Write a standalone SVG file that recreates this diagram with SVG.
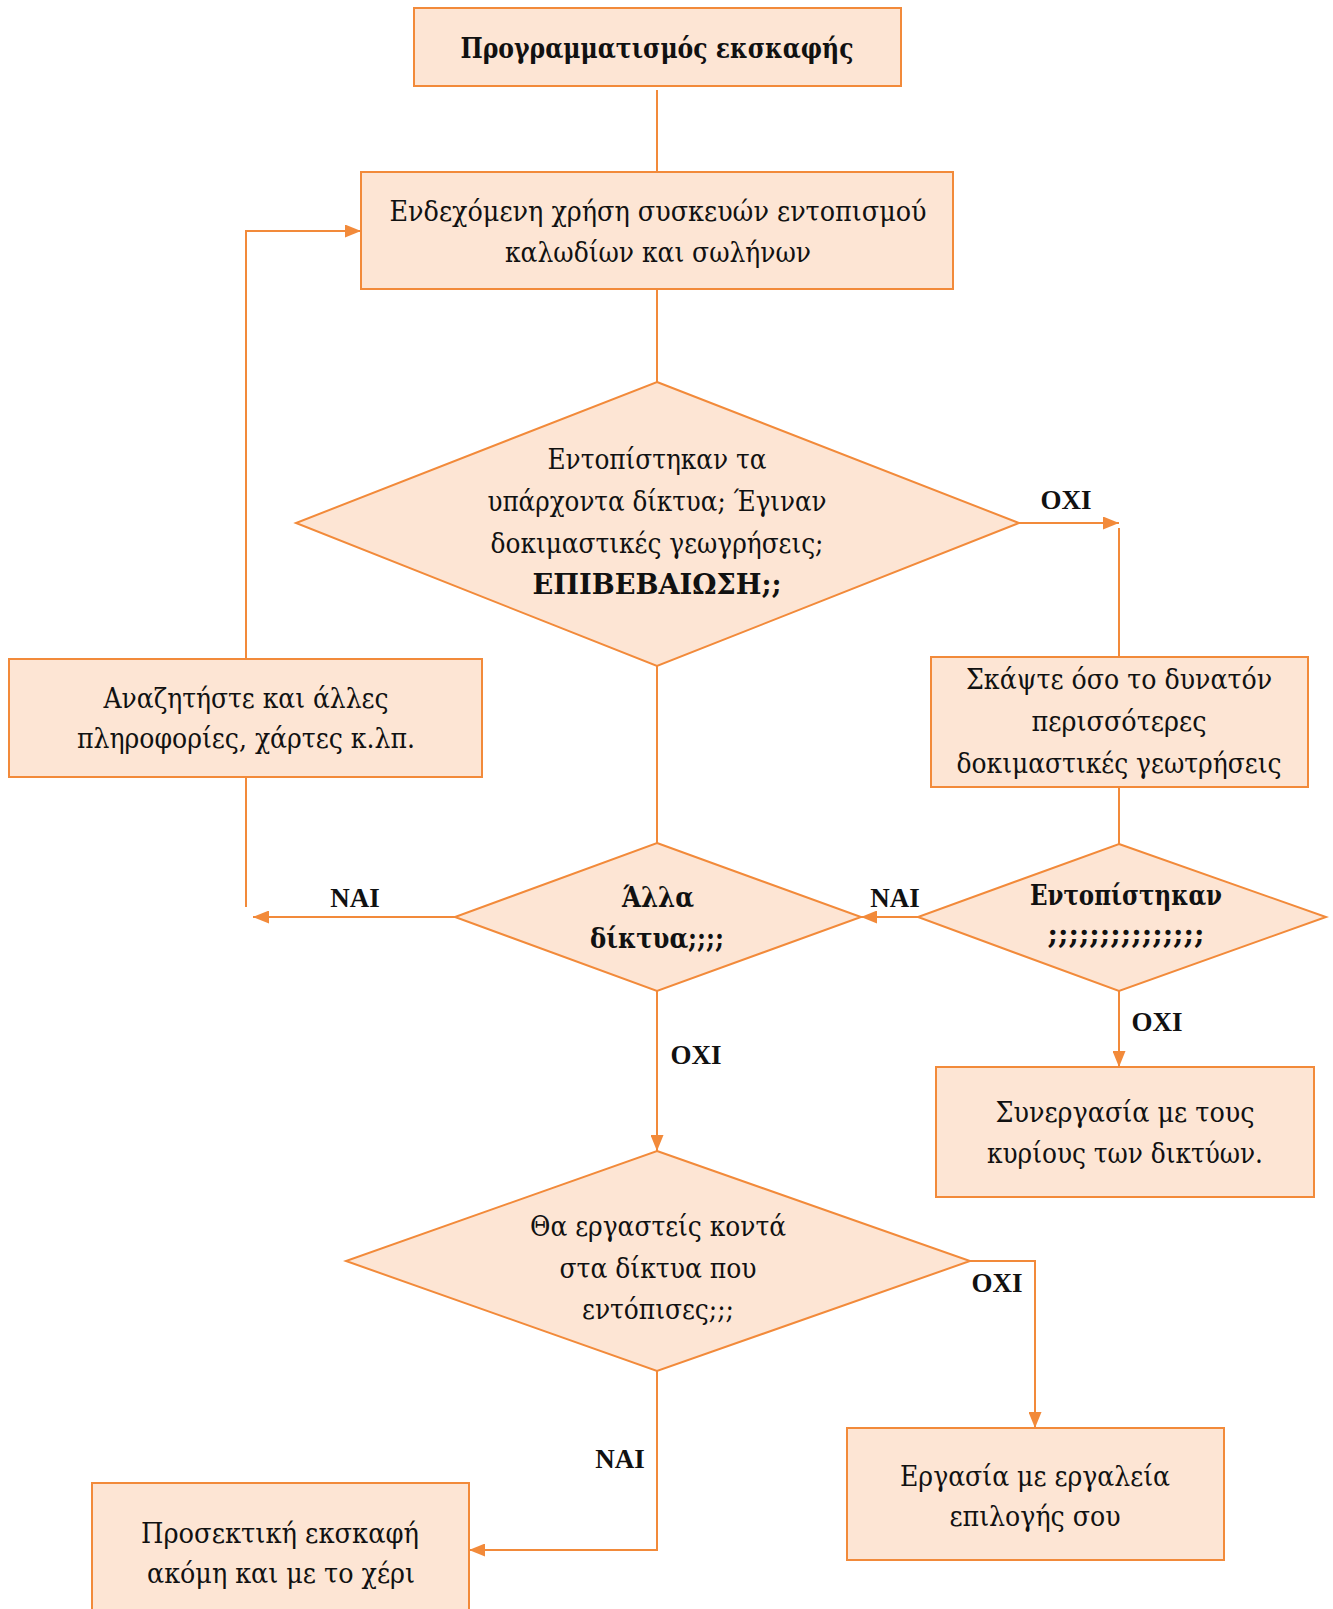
<svg xmlns="http://www.w3.org/2000/svg" width="1333" height="1609" viewBox="0 0 1333 1609">
<style>
.n{fill:#FDE5D4;stroke:#F28A3A;stroke-width:2}
.c{fill:none;stroke:#F28A3A;stroke-width:2}
.t{font-family:"DejaVu Serif","Liberation Serif",serif;font-stretch:condensed;font-size:28px;fill:#111;text-anchor:middle}
.b{font-weight:bold}
.l{font-family:"Liberation Serif","Times New Roman",serif;font-size:27px;font-weight:bold;fill:#111;text-anchor:middle}
</style>
<defs>
<marker id="a" viewBox="0 0 10 10" refX="10" refY="5" markerWidth="16" markerHeight="13" markerUnits="userSpaceOnUse" orient="auto" preserveAspectRatio="none">
<path d="M0,0 L10,5 L0,10 z" fill="#F28A3A"/>
</marker>
</defs>
<g id="connectors">
<line class="c" x1="657" y1="90" x2="657" y2="172"/>
<line class="c" x1="657" y1="289" x2="657" y2="382"/>
<path class="c" d="M1019,523 H1119" marker-end="url(#a)"/>
<line class="c" x1="1119" y1="528" x2="1119" y2="657"/>
<line class="c" x1="1119" y1="787" x2="1119" y2="844"/>
<line class="c" x1="657" y1="666" x2="657" y2="843"/>
<path class="c" d="M918,917 H861" marker-end="url(#a)"/>
<path class="c" d="M455,917 H253" marker-end="url(#a)"/>
<line class="c" x1="246" y1="777" x2="246" y2="907"/>
<path class="c" d="M246,659 V231 H361" marker-end="url(#a)"/>
<path class="c" d="M657,991 V1151" marker-end="url(#a)"/>
<path class="c" d="M1119,991 V1067" marker-end="url(#a)"/>
<path class="c" d="M970,1261 H1035 V1428" marker-end="url(#a)"/>
<path class="c" d="M657,1371 V1550 H469" marker-end="url(#a)"/>
<text class="l" x="1066" y="509">OXI</text>
<text class="l" x="895" y="907">NAI</text>
<text class="l" x="355" y="907">NAI</text>
<text class="l" x="696" y="1064">OXI</text>
<text class="l" x="1157" y="1031">OXI</text>
<text class="l" x="997" y="1292">OXI</text>
<text class="l" x="620" y="1468">NAI</text>
</g>
<g id="n1">
<rect class="n" x="414" y="8" width="487" height="78"/>
<text class="t b" x="657" y="58" textLength="393" lengthAdjust="spacingAndGlyphs">Προγραμματισμός εκσκαφής</text>
</g>
<g id="n2">
<rect class="n" x="361" y="172" width="592" height="117"/>
<text class="t" x="658" y="221" textLength="537" lengthAdjust="spacingAndGlyphs">Ενδεχόμενη χρήση συσκευών εντοπισμού</text>
<text class="t" x="658" y="262" textLength="306" lengthAdjust="spacingAndGlyphs">καλωδίων και σωλήνων</text>
</g>
<g id="d1">
<polygon class="n" points="657,382 1019,523 657,666 296,523"/>
<text class="t" x="657" y="469" textLength="219" lengthAdjust="spacingAndGlyphs">Εντοπίστηκαν τα</text>
<text class="t" x="657" y="511" textLength="339" lengthAdjust="spacingAndGlyphs">υπάρχοντα δίκτυα; Έγιναν</text>
<text class="t" x="657" y="553" textLength="333" lengthAdjust="spacingAndGlyphs">δοκιμαστικές γεωγρήσεις;</text>
<text class="t b" x="657" y="594" textLength="249" lengthAdjust="spacingAndGlyphs">ΕΠΙΒΕΒΑΙΩΣΗ;;</text>
</g>
<g id="n3">
<rect class="n" x="9" y="659" width="473" height="118"/>
<text class="t" x="246" y="708" textLength="285" lengthAdjust="spacingAndGlyphs">Αναζητήστε και άλλες</text>
<text class="t" x="246" y="748" textLength="338" lengthAdjust="spacingAndGlyphs">πληροφορίες, χάρτες κ.λπ.</text>
</g>
<g id="n4">
<rect class="n" x="931" y="657" width="377" height="130"/>
<text class="t" x="1119" y="689" textLength="306" lengthAdjust="spacingAndGlyphs">Σκάψτε όσο το δυνατόν</text>
<text class="t" x="1119" y="731" textLength="175" lengthAdjust="spacingAndGlyphs">περισσότερες</text>
<text class="t" x="1119" y="773" textLength="325" lengthAdjust="spacingAndGlyphs">δοκιμαστικές γεωτρήσεις</text>
</g>
<g id="d2">
<polygon class="n" points="657,843 861,917 657,991 455,917"/>
<text class="t b" x="658" y="907" textLength="72" lengthAdjust="spacingAndGlyphs">Άλλα</text>
<text class="t b" x="657" y="948" textLength="134" lengthAdjust="spacingAndGlyphs">δίκτυα;;;;</text>
</g>
<g id="d3">
<polygon class="n" points="1119,844 1326,917 1119,991 918,917"/>
<text class="t b" x="1126" y="905" textLength="192" lengthAdjust="spacingAndGlyphs">Εντοπίστηκαν</text>
<text class="t b" x="1126" y="944" textLength="157" lengthAdjust="spacingAndGlyphs">;;;;;;;;;;;;;;;</text>
</g>
<g id="n5">
<rect class="n" x="936" y="1067" width="378" height="130"/>
<text class="t" x="1125" y="1122" textLength="259" lengthAdjust="spacingAndGlyphs">Συνεργασία με τους</text>
<text class="t" x="1125" y="1163" textLength="276" lengthAdjust="spacingAndGlyphs">κυρίους των δικτύων.</text>
</g>
<g id="d4">
<polygon class="n" points="657,1151 970,1261 657,1371 346,1261"/>
<text class="t" x="658" y="1236" textLength="256" lengthAdjust="spacingAndGlyphs">Θα εργαστείς κοντά</text>
<text class="t" x="658" y="1278" textLength="197" lengthAdjust="spacingAndGlyphs">στα δίκτυα που</text>
<text class="t" x="658" y="1319" textLength="152" lengthAdjust="spacingAndGlyphs">εντόπισες;;;</text>
</g>
<g id="n6">
<rect class="n" x="847" y="1428" width="377" height="132"/>
<text class="t" x="1035" y="1486" textLength="270" lengthAdjust="spacingAndGlyphs">Εργασία με εργαλεία</text>
<text class="t" x="1035" y="1526" textLength="171" lengthAdjust="spacingAndGlyphs">επιλογής σου</text>
</g>
<g id="n7">
<rect class="n" x="92" y="1483" width="377" height="140"/>
<text class="t" x="280" y="1543" textLength="278" lengthAdjust="spacingAndGlyphs">Προσεκτική εκσκαφή</text>
<text class="t" x="281" y="1583" textLength="268" lengthAdjust="spacingAndGlyphs">ακόμη και με το χέρι</text>
</g>
</svg>
